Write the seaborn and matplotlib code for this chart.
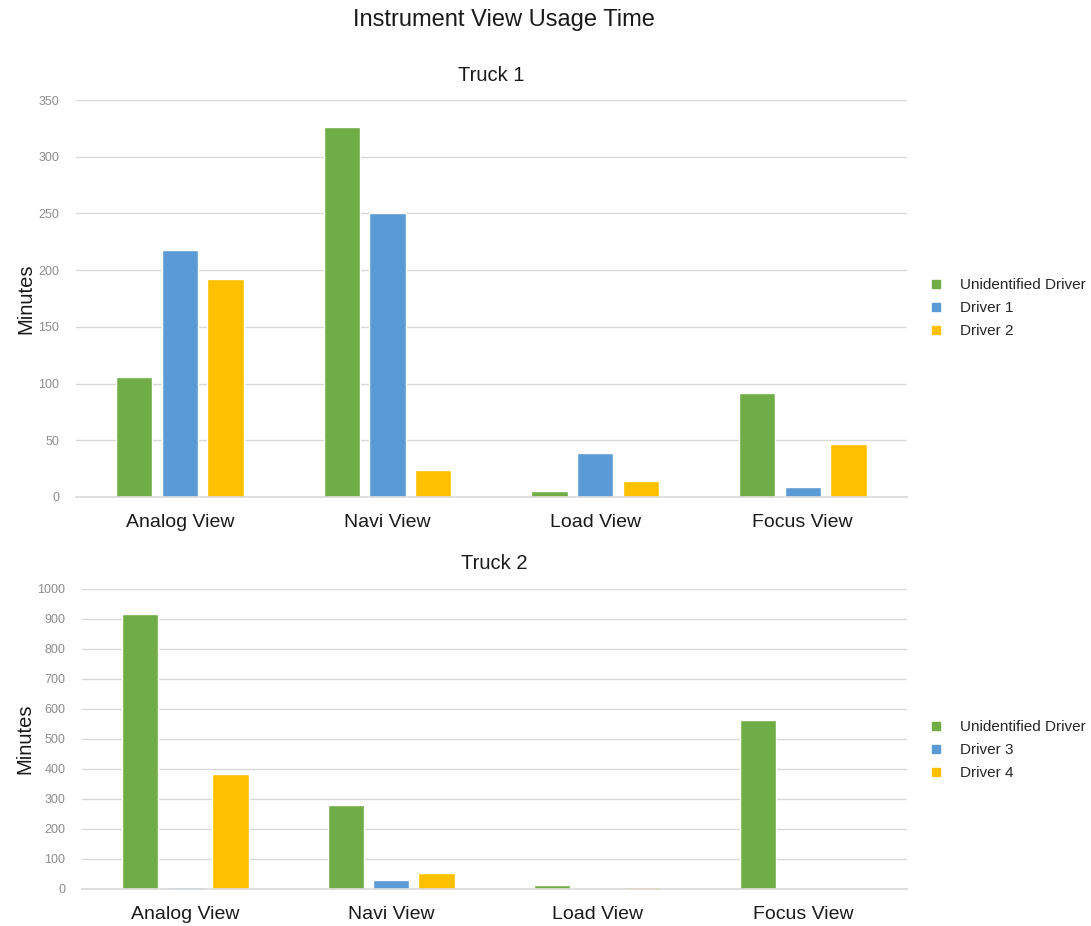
import pandas as pd
import seaborn as sns
import matplotlib.pyplot as plt
from matplotlib.lines import Line2D

views = ['Analog View', 'Navi View', 'Load View', 'Focus View']

truck1_drivers = ['Unidentified Driver', 'Driver 1', 'Driver 2']
truck1_unidentified = [106, 326, 5, 92]
truck1_driver1 = [218, 250, 39, 9]
truck1_driver2 = [192, 24, 14, 47]

truck2_drivers = ['Unidentified Driver', 'Driver 3', 'Driver 4']
truck2_unidentified = [917, 280, 12, 563]
truck2_driver3 = [5, 30, 0, 0]
truck2_driver4 = [383, 54, 5, 0]

colors = ['#70AD47', '#5B9BD5', '#FFC000']


def to_long(drivers, series):
    rows = []
    for drv, vals in zip(drivers, series):
        for v, m in zip(views, vals):
            rows.append({'View': v, 'Driver': drv, 'Minutes': m})
    return pd.DataFrame(rows)


def draw_panel(ax, df, drivers, title, ymax, step, legend_y):
    sns.barplot(data=df, x='View', y='Minutes', hue='Driver', order=views,
                hue_order=drivers, palette=colors, saturation=1,
                width=0.66, gap=0.2, ax=ax, legend=False)
    ax.set_xlim(-0.5, 3.5)
    ax.set_ylim(0, ymax)
    ax.set_yticks(range(0, ymax + 1, step))
    ax.grid(axis='y', color='#D9D9D9', linewidth=1)
    ax.set_axisbelow(True)
    for s in ['top', 'right', 'left']:
        ax.spines[s].set_visible(False)
    ax.spines['bottom'].set_color('#D9D9D9')
    ax.spines['bottom'].set_linewidth(1.2)
    ax.tick_params(axis='both', length=0)
    ax.tick_params(axis='y', labelsize=9, labelcolor='#8C8C8C', pad=12)
    ax.tick_params(axis='x', labelsize=14, labelcolor='#1a1a1a', pad=12)
    ax.set_xlabel('')
    ax.set_ylabel('Minutes', fontsize=14.5, color='#1a1a1a', labelpad=2)
    ax.set_title(title, fontsize=14.5, color='#1a1a1a', pad=14)
    handles = [Line2D([], [], marker='s', linestyle='', color=c, markersize=6)
               for c in colors]
    ax.legend(handles, drivers, loc='center left', bbox_to_anchor=(1.0, legend_y),
              frameon=False, fontsize=11, handletextpad=0.6, labelspacing=0.6)


sns.set_style('white')
plt.rcParams['font.family'] = ['Arial', 'Liberation Sans', 'DejaVu Sans']

fig = plt.figure(figsize=(10.91, 9.26), dpi=100)
ax1 = fig.add_axes([0.0697, 0.4633, 0.7613, 0.4287])
ax2 = fig.add_axes([0.0752, 0.040, 0.7558, 0.324])

df1 = to_long(truck1_drivers, [truck1_unidentified, truck1_driver1, truck1_driver2])
df2 = to_long(truck2_drivers, [truck2_unidentified, truck2_driver3, truck2_driver4])

draw_panel(ax1, df1, truck1_drivers, 'Truck 1', 350, 50, 0.476)
draw_panel(ax2, df2, truck2_drivers, 'Truck 2', 1000, 100, 0.463)

fig.suptitle('Instrument View Usage Time', fontsize=17, x=0.462, y=0.99, color='#1a1a1a')

plt.savefig('out.png', dpi=100)
